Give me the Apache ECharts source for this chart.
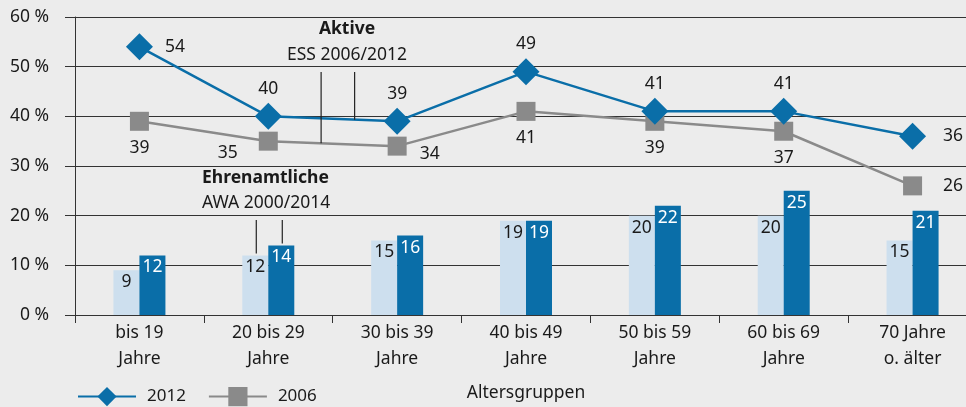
<!DOCTYPE html>
<html lang="de">
<head>
    <meta charset="UTF-8">
    <title>Aktive und Ehrenamtliche nach Altersgruppen</title>
    <script src="https://cdn.jsdelivr.net/npm/echarts@6.0.0/dist/echarts.min.js"></script>
    <style>
        html, body {
            margin: 0;
            padding: 0;
            background: #ececec;
        }
        #chart {
            width: 966px;
            height: 407px;
        }
    </style>
</head>
<body>
    <div id="chart"></div>

    <script>
        // Altersgruppen (x-Achse)
        var categories = ['bis 19\nJahre', '20 bis 29\nJahre', '30 bis 39\nJahre', '40 bis 49\nJahre',
                          '50 bis 59\nJahre', '60 bis 69\nJahre', '70 Jahre\no. älter'];
        // Ehrenamtliche, AWA 2000 / 2014 (Balken)
        var ehren2000 = [9, 12, 15, 19, 20, 20, 15];
        var ehren2014 = [12, 14, 16, 19, 22, 25, 21];
        // Aktive, ESS 2006 / 2012 (Linien)
        var aktive2012 = [54, 40, 39, 49, 41, 41, 36];
        var aktive2006 = [39, 35, 34, 41, 39, 37, 26];

        var FONT = '"Noto Sans", sans-serif';
        var TEXT = '#1a1a1a';
        var BLUE = '#0a6ea8';
        var LIGHT = '#cddfee';
        var GRAY = '#8a8a8a';

        // Lage der Beschriftungen an den Linienpunkten
        var pos2012 = ['right', 'top', 'top', 'top', 'top', 'top', 'right'];
        var pos2006 = ['bottom', 'left', 'right', 'bottom', 'bottom', 'bottom', 'right'];

        function lineData(values, positions, last) {
            return values.map(function (v, i) {
                var p = positions[i];
                var lab = { position: p, distance: p === 'top' ? 5 : 8 };
                if (p === 'right') lab.distance = 12;
                if (i === values.length - 1) lab.distance = last;
                if (p === 'left') { lab.distance = 21; lab.offset = [0, 12]; }
                if (p === 'right' && i === 2) { lab.distance = 13; lab.offset = [0, 8]; }
                return { value: v, label: lab };
            });
        }

        var chart = echarts.init(document.getElementById('chart'));

        var option = {
            backgroundColor: '#ececec',
            animation: false,
            textStyle: { fontFamily: FONT },
            grid: { left: 75, top: 17, width: 902, height: 298, outerBoundsMode: 'none', containLabel: false },
            legend: {
                left: 72,
                top: 382,
                itemWidth: 58,
                itemHeight: 24,
                itemGap: 22,
                data: ['2012', '2006'],
                textStyle: { fontSize: 17, color: TEXT, fontFamily: FONT, padding: [0, 0, 0, 6] }
            },
            xAxis: {
                type: 'category',
                data: categories,
                boundaryGap: true,
                name: 'Altersgruppen',
                nameLocation: 'middle',
                nameGap: 69,
                nameTextStyle: { fontSize: 17.5, color: TEXT, fontFamily: FONT },
                axisLine: { show: true, lineStyle: { color: '#333', width: 1 } },
                axisTick: { show: true, length: 8, lineStyle: { color: '#333' } },
                axisLabel: { fontSize: 17.5, color: TEXT, lineHeight: 26, margin: 5, fontFamily: FONT }
            },
            yAxis: {
                type: 'value',
                min: 0,
                max: 60,
                interval: 10,
                axisLine: { show: true, lineStyle: { color: '#333', width: 1 } },
                axisTick: { show: true, length: 10, lineStyle: { color: '#333' } },
                splitLine: { show: true, lineStyle: { color: '#333', width: 1 } },
                axisLabel: { formatter: '{value} %', fontSize: 17.5, color: TEXT, margin: 26, fontFamily: FONT }
            },
            series: [
                {
                    name: 'AWA 2000',
                    type: 'bar',
                    data: ehren2000,
                    barWidth: 26,
                    barGap: '0%',
                    itemStyle: { color: LIGHT },
                    label: { show: true, position: 'insideTop', distance: 3, fontSize: 17.5, color: TEXT, fontFamily: FONT }
                },
                {
                    name: 'AWA 2014',
                    type: 'bar',
                    data: ehren2014,
                    barWidth: 26,
                    barGap: '0%',
                    itemStyle: { color: BLUE },
                    label: { show: true, position: 'insideTop', distance: 3, fontSize: 17.5, color: '#fff', fontFamily: FONT }
                },
                {
                    name: '2006',
                    type: 'line',
                    data: lineData(aktive2006, pos2006, 21),
                    symbol: 'rect',
                    symbolSize: 19,
                    lineStyle: { color: GRAY, width: 2.5 },
                    itemStyle: { color: GRAY },
                    label: { show: true, fontSize: 17.5, color: TEXT, fontFamily: FONT },
                    z: 3
                },
                {
                    name: '2012',
                    type: 'line',
                    data: lineData(aktive2012, pos2012, 17),
                    symbol: 'diamond',
                    symbolSize: 27,
                    lineStyle: { color: BLUE, width: 2.5 },
                    itemStyle: { color: BLUE },
                    label: { show: true, fontSize: 17.5, color: TEXT, fontFamily: FONT },
                    z: 4
                }
            ]
        };

        chart.setOption(option);

        // Anmerkungen mit Hinweislinien an Linien und Balken
        function px(x, y) {
            return chart.convertToPixel({ gridIndex: 0 }, [x, y]);
        }
        var c1 = px(1, 0)[0];
        var bw = px(2, 0)[0] - c1;
        var fa = 0.41, fb = 0.67;
        var vGray = aktive2006[1] + fa * (aktive2006[2] - aktive2006[1]);
        var vBlue = aktive2012[1] + fb * (aktive2012[2] - aktive2012[1]);
        var lineStyle = { stroke: '#222', lineWidth: 1.2 };

        function note(text, x, y, bold, align) {
            return {
                type: 'text',
                z: 10,
                style: {
                    text: text, x: x, y: y,
                    fill: TEXT,
                    font: (bold ? 'bold ' : '') + '17.5px ' + FONT,
                    align: align, verticalAlign: 'middle'
                }
            };
        }

        chart.setOption({
            graphic: [
                note('Aktive', 347, 29, true, 'center'),
                note('ESS 2006/2012', 347, 55, false, 'center'),
                note('Ehrenamtliche', 202, 178, true, 'left'),
                note('AWA 2000/2014', 202, 203, false, 'left'),
                { type: 'line', z: 10, shape: { x1: c1 + fa * bw, y1: 72, x2: c1 + fa * bw, y2: px(1, vGray)[1] }, style: lineStyle },
                { type: 'line', z: 10, shape: { x1: c1 + fb * bw, y1: 72, x2: c1 + fb * bw, y2: px(1, vBlue)[1] }, style: lineStyle },
                { type: 'line', z: 10, shape: { x1: c1 - 12, y1: 220, x2: c1 - 12, y2: px(1, ehren2000[1])[1] - 2 }, style: lineStyle },
                { type: 'line', z: 10, shape: { x1: c1 + 14, y1: 220, x2: c1 + 14, y2: px(1, ehren2014[1])[1] - 2 }, style: lineStyle }
            ]
        });

        window.addEventListener('resize', function () {
            chart.resize();
        });
    </script>
</body>
</html>
